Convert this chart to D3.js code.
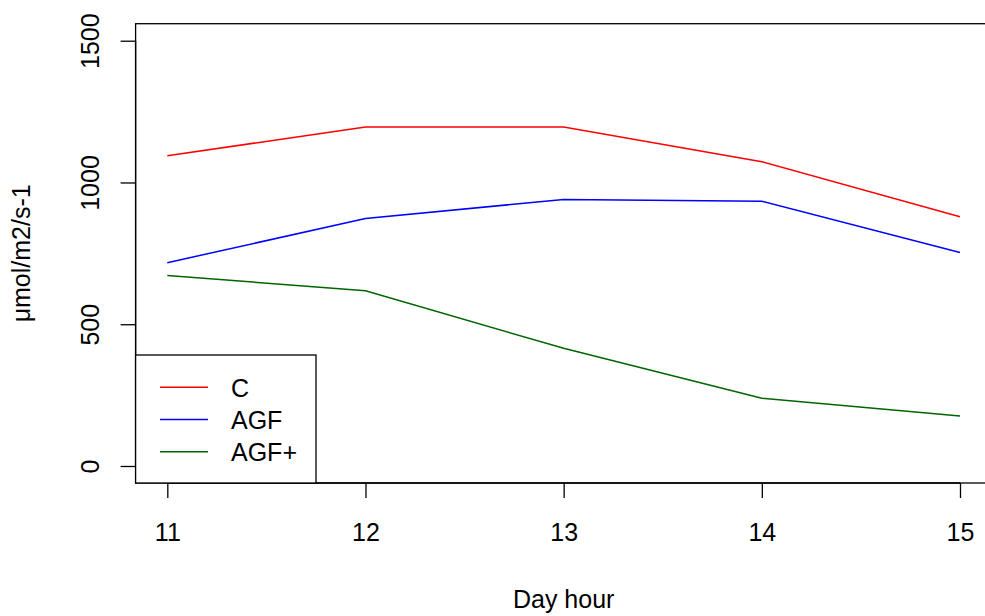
<!DOCTYPE html>
<html>
<head>
<meta charset="utf-8">
<script src="https://cdn.jsdelivr.net/npm/d3@7"></script>
<style>
  html, body { margin: 0; padding: 0; background: #fff; }
  svg { display: block; }
  text { font-family: "Liberation Sans", Arial, sans-serif; fill: #000; }
</style>
</head>
<body>
<svg id="chart" width="985" height="616"></svg>
<script>
// ---- data ----
const hours = [11, 12, 13, 14, 15];
const seriesNames = ["C", "AGF", "AGF+"];
const seriesC = [1094, 1196, 1196, 1073, 879];
const seriesAGF = [717, 873, 940, 934, 753];
const seriesAGFplus = [672, 618, 415, 239, 176];
const seriesColors = ["#ff0000", "#0000ff", "#006400"];
const yTicks = [0, 500, 1000, 1500];
const xTicks = [11, 12, 13, 14, 15];
const xLabel = "Day hour";
const yLabel = "μmol/m2/s-1";

const series = [seriesC, seriesAGF, seriesAGFplus];

// ---- layout ----
const svg = d3.select("#chart");
const fs = 25;
const x = d3.scaleLinear().domain([10.84, 15.16]).range([135.6, 991.7]);
const y = d3.scaleLinear().domain([-60, 1560]).range([483.0, 23.7]);

// plot box
svg.append("rect")
  .attr("x", x.range()[0]).attr("y", y.range()[1])
  .attr("width", x.range()[1] - x.range()[0])
  .attr("height", y.range()[0] - y.range()[1])
  .attr("fill", "none").attr("stroke", "#000").attr("stroke-width", 1.3);

// x axis
const xAxis = svg.append("g")
  .attr("transform", `translate(0,${y.range()[0]})`)
  .call(d3.axisBottom(x).tickValues(xTicks).tickSize(15).tickSizeOuter(0).tickFormat(d3.format("d")));
xAxis.select(".domain").attr("d", `M${x(11)},0H${x(15)}`).attr("stroke-width", 1.3);
xAxis.selectAll(".tick line").attr("stroke-width", 1.3);
xAxis.selectAll(".tick text")
  .attr("y", 58).attr("dy", null)
  .style("font-size", fs + "px")
  .style("font-family", '"Liberation Sans", Arial, sans-serif');

// y axis
const yAxis = svg.append("g")
  .attr("transform", `translate(${x.range()[0]},0)`)
  .call(d3.axisLeft(y).tickValues(yTicks).tickSize(15).tickSizeOuter(0).tickFormat(d3.format("d")));
yAxis.select(".domain").attr("d", `M0,${y(0)}V${y(1500)}`).attr("stroke-width", 1.3);
yAxis.selectAll(".tick line").attr("stroke-width", 1.3);
yAxis.selectAll(".tick text")
  .attr("x", null).attr("dy", null)
  .attr("text-anchor", "middle")
  .attr("transform", "translate(-37,0) rotate(-90)")
  .style("font-size", fs + "px")
  .style("font-family", '"Liberation Sans", Arial, sans-serif');

// axis titles
svg.append("text")
  .attr("x", (x.range()[0] + x.range()[1]) / 2)
  .attr("y", 608)
  .attr("text-anchor", "middle")
  .style("font-size", fs + "px")
  .text(xLabel);
svg.append("text")
  .attr("transform", `translate(30,${(y.range()[0] + y.range()[1]) / 2}) rotate(-90)`)
  .attr("text-anchor", "middle")
  .style("font-size", fs + "px")
  .text(yLabel);

// lines
const line = d3.line().x((d, i) => x(hours[i])).y(d => y(d));
series.forEach((s, k) => {
  svg.append("path")
    .datum(s)
    .attr("d", line)
    .attr("fill", "none")
    .attr("stroke", seriesColors[k])
    .attr("stroke-width", 1.5);
});

// legend
const legX = x.range()[0], legY = 355, legW = 316 - x.range()[0], legH = y.range()[0] - 355;
svg.append("rect")
  .attr("x", legX).attr("y", legY).attr("width", legW).attr("height", legH)
  .attr("fill", "#fff").attr("stroke", "#000").attr("stroke-width", 1.3);
const rowY = [387.3, 419.5, 451.7];
seriesNames.forEach((name, k) => {
  svg.append("line")
    .attr("x1", 160).attr("x2", 208)
    .attr("y1", rowY[k]).attr("y2", rowY[k])
    .attr("stroke", seriesColors[k]).attr("stroke-width", 1.5);
  svg.append("text")
    .attr("x", 231).attr("y", rowY[k] + 9.5)
    .style("font-size", fs + "px")
    .text(name);
});
</script>
</body>
</html>
